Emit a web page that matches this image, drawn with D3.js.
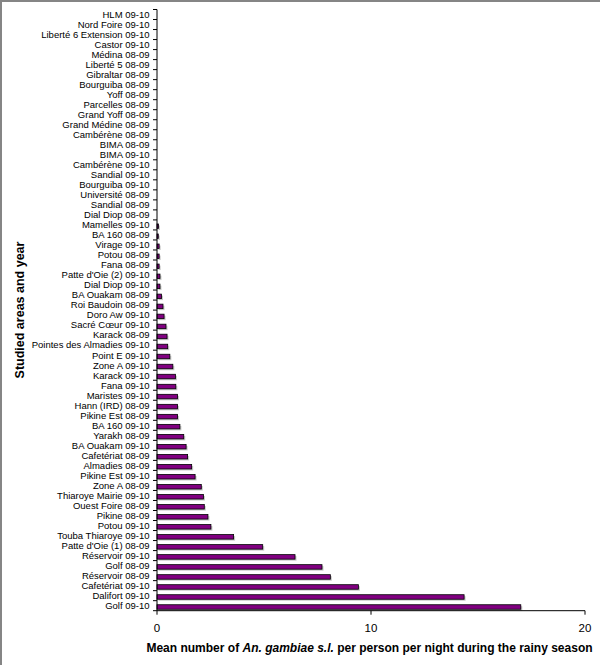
<!DOCTYPE html>
<html><head><meta charset="utf-8">
<script src="https://cdn.jsdelivr.net/npm/d3@7"></script>
<style>
html,body{margin:0;padding:0;background:#fff;}
svg{display:block;font-family:"Liberation Sans",Arial,sans-serif;}
</style></head>
<body>
<svg id="chart" width="600" height="665"></svg>
<script>
const categories = [
"HLM 09-10","Nord Foire 09-10","Liberté 6 Extension 09-10","Castor 09-10","Médina 08-09",
"Liberté 5 08-09","Gibraltar 08-09","Bourguiba 08-09","Yoff 08-09","Parcelles 08-09",
"Grand Yoff 08-09","Grand Médine 08-09","Cambérène 08-09","BIMA 08-09","BIMA 09-10",
"Cambérène 09-10","Sandial 09-10","Bourguiba 09-10","Université 08-09","Sandial 08-09",
"Dial Diop 08-09","Mamelles 09-10","BA 160 08-09","Virage 09-10","Potou 08-09",
"Fana 08-09","Patte d'Oie (2) 09-10","Dial Diop 09-10","BA Ouakam 08-09","Roi Baudoin  08-09",
"Doro Aw 09-10","Sacré Cœur 09-10","Karack 08-09","Pointes des Almadies 09-10","Point E 09-10",
"Zone A 09-10","Karack 09-10","Fana 09-10","Maristes 09-10","Hann (IRD) 08-09",
"Pikine Est 08-09","BA 160 09-10","Yarakh 08-09","BA Ouakam 09-10","Cafetériat 08-09",
"Almadies 08-09","Pikine Est 09-10","Zone A 08-09","Thiaroye Mairie 09-10","Ouest Foire 08-09",
"Pikine 08-09","Potou 09-10","Touba Thiaroye 09-10","Patte d'Oie (1) 08-09","Réservoir 09-10",
"Golf 08-09","Réservoir 08-09","Cafetériat 09-10","Dalifort 09-10","Golf 09-10"];
const values = [
0,0,0,0,0,
0,0,0,0,0,
0,0,0,0,0,
0,0,0,0,0,
0,0.07,0.06,0.1,0.1,
0.1,0.14,0.14,0.21,0.28,
0.33,0.42,0.47,0.5,0.6,
0.74,0.86,0.88,0.96,0.96,
0.96,1.07,1.25,1.36,1.43,
1.62,1.78,2.07,2.17,2.21,
2.38,2.52,3.58,4.94,6.45,
7.71,8.1,9.41,14.35,17.0];
const xTicks = [0,10,20];

const svg = d3.select("#chart");
const mLeft = 157, mRight = 585, mTop = 9.5, mBottom = 610.7;

// frame (top + left gray border)
svg.append("rect").attr("x",0).attr("y",0).attr("width",600).attr("height",2).attr("fill","#858585");
svg.append("rect").attr("x",0).attr("y",0).attr("width",2).attr("height",665).attr("fill","#858585");

const x = d3.scaleLinear().domain([0,20]).range([mLeft,mRight]);
const y = d3.scaleBand().domain(categories).range([mTop,mBottom]).padding(0);
const bw = 4.5;
const off = y.bandwidth()/2 - bw/2 + 1.3;
const data = categories.map((c,i)=>({c, v: values[i]})).filter(d=>d.v>0);

// shadows
svg.append("g").selectAll("rect").data(data).join("rect")
  .attr("x", x(0)+1.5)
  .attr("y", d=>y(d.c)+off+1.5)
  .attr("width", d=>x(d.v)-x(0))
  .attr("height", bw)
  .attr("fill","#c8c8c8");
// bars
svg.append("g").selectAll("rect").data(data).join("rect")
  .attr("x", x(0))
  .attr("y", d=>y(d.c)+off)
  .attr("width", d=>x(d.v)-x(0))
  .attr("height", bw)
  .attr("fill","#800080")
  .attr("stroke","#000")
  .attr("stroke-width",0.8);

// y axis
const yAxis = svg.append("g");
yAxis.append("line").attr("x1",mLeft).attr("x2",mLeft).attr("y1",mTop).attr("y2",mBottom).attr("stroke","#000").attr("stroke-width",1);
const bounds = categories.map(c=>y(c)).concat([mBottom]);
yAxis.selectAll("line.t").data(bounds).join("line").attr("class","t")
  .attr("x1",mLeft-4).attr("x2",mLeft).attr("y1",d=>d).attr("y2",d=>d).attr("stroke","#000").attr("stroke-width",1);
yAxis.selectAll("text").data(categories).join("text")
  .attr("x", mLeft-7.5).attr("y", d=>y(d)+y.bandwidth()/2)
  .attr("dy","0.35em").attr("text-anchor","end")
  .attr("font-size","9.5px").attr("fill","#000").text(d=>d);

// x axis
const xAxis = svg.append("g");
xAxis.append("line").attr("x1",mLeft).attr("x2",mRight).attr("y1",mBottom).attr("y2",mBottom).attr("stroke","#000").attr("stroke-width",1);
xAxis.selectAll("line.t").data(xTicks).join("line").attr("class","t")
  .attr("x1",d=>x(d)).attr("x2",d=>x(d)).attr("y1",mBottom).attr("y2",mBottom+4).attr("stroke","#000");
xAxis.selectAll("text").data(xTicks).join("text")
  .attr("x",d=>x(d)).attr("y",632).attr("text-anchor","middle")
  .attr("font-size","11.5px").attr("fill","#000").text(d=>d);

// x title
const xt = svg.append("text").attr("x",(147+592)/2).attr("y",652).attr("text-anchor","middle")
  .attr("font-size","12px").attr("font-weight","bold").attr("fill","#000");
xt.append("tspan").text("Mean number of ");
xt.append("tspan").attr("font-style","italic").text("An. gambiae s.l.");
xt.append("tspan").text("  per person per night during the rainy season");

// y title
svg.append("text").attr("transform","translate(24,310) rotate(-90)")
  .attr("text-anchor","middle").attr("font-size","12.5px").attr("font-weight","bold")
  .attr("fill","#000").text("Studied areas and year");
</script>
</body></html>
